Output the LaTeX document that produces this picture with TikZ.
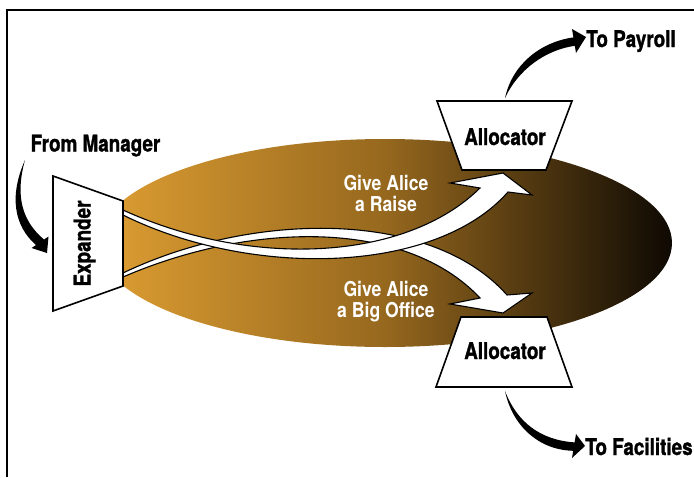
\documentclass[tikz,border=0pt]{standalone}
\usepackage{fontspec}
\newfontfamily\labelfont{TeX Gyre Heros}[FakeStretch=0.82, BoldFeatures={FakeBold=1.2}]
\newfontfamily\flowfont{TeX Gyre Heros}[FakeStretch=0.86]
\definecolor{gold}{RGB}{222,158,50}
\definecolor{umber}{RGB}{150,104,30}
\definecolor{nearblack}{RGB}{14,9,3}

\begin{document}
\begin{tikzpicture}[x=1pt,y=-1pt,
  label/.style={font=\labelfont\bfseries\fontsize{23}{26}\selectfont, inner sep=0pt, anchor=base},
  flow/.style={font=\flowfont\bfseries\fontsize{20.5}{21}\selectfont, text=white, align=center, inner sep=0pt},
  box/.style={draw=black, fill=white, line width=1.6pt, line join=miter},
  ribbon/.style={draw=black, fill=white, line width=1.1pt, line join=miter},
  swoosh/.style={fill=black},
]
\useasboundingbox (0,0) rectangle (694,477);

% open frame: top and left rules
\coordinate (frameTR) at (694,10);
\coordinate (frameTL) at (7,10);
\coordinate (frameBL) at (7,477);
\draw[line width=2pt] (frameTR) -- (frameTL) -- (frameBL);

% shaded field behind the flows
\shade[left color=gold, right color=nearblack, middle color=umber]
  (385,243) ellipse [x radius=287pt, y radius=104pt];

% request ribbons leaving the expander
\coordinate (officeStart) at (123,275);
\coordinate (raiseStart) at (123,212);
\filldraw[ribbon] (123,273) .. controls (250,212) and (430,208) .. (507,295)
  -- (532,293) -- (503,313) coordinate (officeTip) -- (450,304) -- (480,298)
  .. controls (405,218) and (250,222) .. (123,277) -- cycle;
\filldraw[ribbon] (123,210) .. controls (250,268) and (405,262) .. (480,188)
  -- (450,183) -- (503,173) -- (532,195) coordinate (raiseTip) -- (508,192)
  .. controls (435,275) and (250,278) .. (123,215) -- cycle;

% expander
\filldraw[box] (53,176) -- (123,201) -- (123,286) -- (53,311) -- cycle;
\node[label, rotate=90] (expander) at (90.5,243.5) {Expander};

% allocators
\filldraw[box] (437,101) -- (572,101) -- (546,170) -- (462,170) -- cycle;
\node[label] (allocTop) at (505,145) {Allocator};
\filldraw[box] (461,317) -- (547,317) -- (572,387) -- (436,387) -- cycle;
\node[label] (allocBot) at (505,359) {Allocator};

% outside labels
\node[label] (fromMgr) at (95.5,151.5) {From Manager};
\node[label] (toPayroll) at (631,47) {To Payroll};
\node[label] (toFacilities) at (639,455) {To Facilities};

% flow labels
\node[flow] (raise) at (386,193) {Give Alice\\a Raise};
\node[flow] (office) at (386,302) {Give Alice\\a Big Office};

% tapered black arrows, fading in at their tails
\coordinate (mgrStart) at (25,160);
\fill[swoosh] (mgrStart) .. controls (9,196) and (14,226) .. (36,245)
  -- (31.5,248) -- (47,253) -- (48.5,236.5) -- (44,239.5)
  .. controls (22,221) and (15,196) .. (mgrStart) -- cycle;
\coordinate (payStart) at (505,98);
\fill[swoosh] (payStart) .. controls (512,65) and (540,42) .. (573.4,37.4)
  -- (572,29) -- (586,37) -- (576,53) -- (574.8,45.8)
  .. controls (545,50) and (518,70) .. (payStart) -- cycle;
\coordinate (facStart) at (505,391);
\fill[swoosh] (facStart) .. controls (517,422) and (540,440) .. (574.6,442.4)
  -- (576,434) -- (585,446) -- (572,458) -- (573.2,450.8)
  .. controls (538,450) and (512,425) .. (facStart) -- cycle;
\end{tikzpicture}
\end{document}
